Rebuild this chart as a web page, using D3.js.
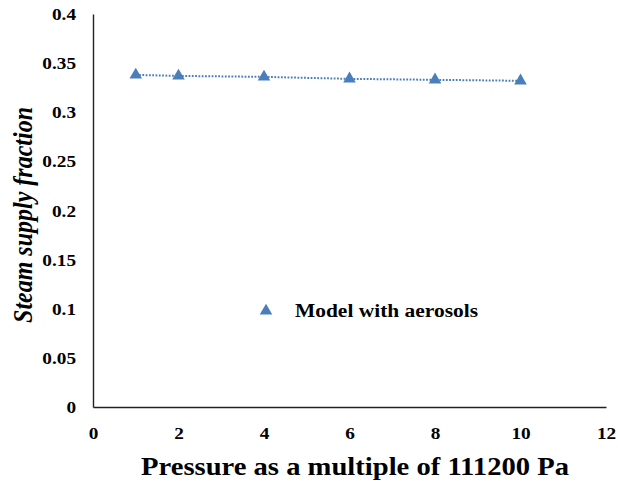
<!DOCTYPE html>
<html>
<head>
<meta charset="utf-8">
<script src="https://cdn.jsdelivr.net/npm/d3@7/dist/d3.min.js"></script>
<style>
  body { margin: 0; background: #fff; }
  svg text { font-family: "Liberation Serif", "Times New Roman", serif; font-weight: bold; }
</style>
</head>
<body>
<svg class="chart" width="618" height="481"></svg>
<script>
var pressure = [1, 2, 4, 6, 8, 10];
var steamFraction = [0.338, 0.337, 0.336, 0.334, 0.333, 0.332];
var xTicks = [0, 2, 4, 6, 8, 10, 12];
var yTicks = [0, 0.05, 0.1, 0.15, 0.2, 0.25, 0.3, 0.35, 0.4];
var seriesName = "Model with aerosols";

var svg = d3.select(".chart"),
  margin = { top: 14, right: 12, bottom: 74, left: 93 },
  width = +svg.attr("width") - margin.left - margin.right,
  height = +svg.attr("height") - margin.top - margin.bottom,
  g = svg.append("g")
    .attr("transform", "translate(" + margin.left + "," + margin.top + ")");

var color = "#4a7ebb";
var stretch = 1.1; // the original picture is a little wider than tall

var x = d3.scaleLinear().domain([0, 12]).range([0, 513]);
var y = d3.scaleLinear().domain([0, 0.4]).range([height, 0]);

// axes: no tick marks, just labels
var xAxis = g.append("g")
  .attr("transform", "translate(0," + height + ")")
  .call(d3.axisBottom(x).tickValues(xTicks).tickSize(0).tickPadding(0).tickFormat(d3.format("d")));
xAxis.select(".domain").attr("stroke", "#222").attr("stroke-width", 1.4);
xAxis.selectAll(".tick text")
  .attr("y", 0).attr("dy", 0)
  .attr("font-size", 17.5).attr("fill", "#000")
  .attr("transform", "translate(0,32) scale(" + stretch + ",1)");

var yAxis = g.append("g")
  .call(d3.axisLeft(y).tickValues(yTicks).tickSize(0).tickPadding(0)
    .tickFormat(function (d) { return d3.format("")(+d.toFixed(2)); }));
yAxis.select(".domain").attr("stroke", "#222").attr("stroke-width", 1.4);
yAxis.selectAll(".tick text")
  .attr("x", 0)
  .attr("font-size", 17.5).attr("fill", "#000")
  .attr("transform", "translate(-17,0) scale(" + stretch + ",1)");

var data = pressure.map(function (p, i) { return { p: p, v: steamFraction[i] }; });

// dotted line through the points
g.append("path")
  .datum(data)
  .attr("fill", "none")
  .attr("stroke", color)
  .attr("stroke-width", 2)
  .attr("stroke-dasharray", "1.8,1.5")
  .attr("d", d3.line()
    .x(function (d) { return x(d.p); })
    .y(function (d) { return y(d.v); }));

var tri = d3.symbol().type(d3.symbolTriangle).size(68);

g.selectAll(".pt")
  .data(data)
  .enter()
  .append("path")
  .attr("class", "pt")
  .attr("d", tri)
  .attr("fill", color)
  .attr("transform", function (d) {
    return "translate(" + x(d.p) + "," + y(d.v) + ")";
  });

// legend
var legend = svg.append("g").attr("transform", "translate(266,311)");
legend.append("path").attr("d", tri).attr("fill", color);
legend.append("text")
  .attr("font-size", 19.5)
  .attr("fill", "#000")
  .attr("transform", "translate(29,6) scale(" + stretch + ",1)")
  .text(seriesName);

// axis titles
svg.append("text")
  .attr("text-anchor", "middle")
  .attr("font-size", 26)
  .attr("fill", "#000")
  .attr("transform", "translate(355,475) scale(" + stretch + ",1)")
  .text("Pressure as a multiple of 111200 Pa");

svg.append("text")
  .attr("text-anchor", "middle")
  .attr("font-size", 24)
  .attr("font-style", "italic")
  .attr("fill", "#000")
  .attr("transform", "translate(32,215) rotate(-90) scale(1," + stretch + ")")
  .text("Steam supply fraction");
</script>
</body>
</html>
